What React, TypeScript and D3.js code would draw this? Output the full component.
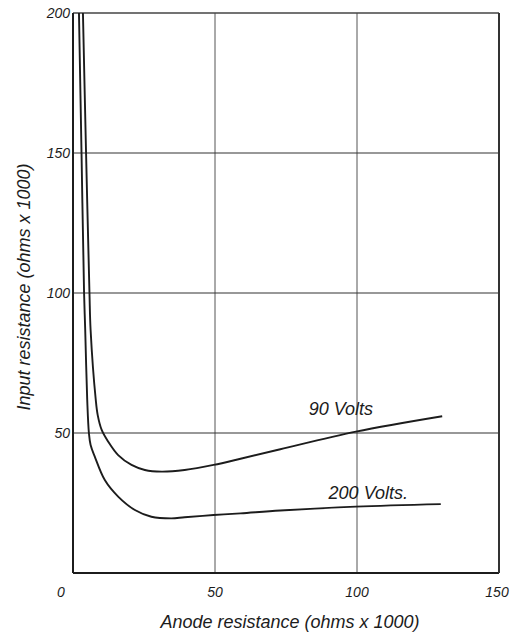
import React from "react";
import * as d3 from "d3";

// Anode resistance (ohms x 1000) vs input resistance (ohms x 1000)
const volts90X = [3.5, 4.6, 5.8, 6.2, 8.0, 8.7, 10.1, 12.4, 15.9, 20.6, 25.3, 31.2, 39.3, 49.5, 59.0, 73.0, 99.6, 130.0];
const volts90Y = [200, 150, 100, 86.8, 62.0, 56.4, 51.1, 46.9, 42.1, 38.6, 36.8, 36.2, 36.8, 38.6, 40.8, 44.2, 50.5, 56.0];

const volts200X = [2.1, 3.0, 3.9, 4.3, 5.0, 5.6, 6.2, 7.7, 11.2, 15.9, 21.8, 27.6, 34.6, 39.3, 49.5, 59.0, 73.0, 99.6, 129.5];
const volts200Y = [200, 150, 100, 86.8, 62.0, 50.0, 45.7, 41.5, 33.2, 27.3, 22.5, 20.1, 19.5, 19.9, 20.7, 21.3, 22.3, 23.7, 24.6];

const xTicks = [0, 50, 100, 150];
const yTicks = [50, 100, 150, 200];

const xTitle = "Anode resistance (ohms x 1000)";
const yTitle = "Input resistance (ohms x 1000)";

const seriesLabels = [
  { text: "90 Volts", x: 83, y: 56.5 },
  { text: "200 Volts.", x: 90, y: 26.5 },
];

const W = 510;
const H = 633;
const left = 73;
const right = 499;
const top = 13;
const bottom = 573;

export default function App() {
  const x = d3.scaleLinear().domain([0, 150]).range([left, right]);
  const y = d3.scaleLinear().domain([0, 200]).range([bottom, top]);

  const line = d3
    .line<[number, number]>()
    .x((d) => x(d[0]))
    .y((d) => y(d[1]))
    .curve(d3.curveCatmullRom.alpha(0.5));

  const p90 = line(volts90X.map((v, i) => [v, volts90Y[i]] as [number, number])) || "";
  const p200 = line(volts200X.map((v, i) => [v, volts200Y[i]] as [number, number])) || "";

  const font = "'Liberation Sans', Arial, sans-serif";
  const ink = "#1c1c1c";

  return (
    <svg
      width={W}
      height={H}
      style={{ position: "absolute", left: 0, top: 0, background: "#fff" }}
    >
      <defs>
        <clipPath id="plot">
          <rect x={left} y={top} width={right - left} height={bottom - top} />
        </clipPath>
      </defs>

      {/* grid */}
      {xTicks
        .filter((t) => t > 0 && t < 150)
        .map((t) => (
          <line key={"gx" + t} x1={x(t)} x2={x(t)} y1={top} y2={bottom} stroke="#555" strokeWidth={1} />
        ))}
      {yTicks
        .filter((t) => t < 200)
        .map((t) => (
          <line key={"gy" + t} x1={left} x2={right} y1={y(t)} y2={y(t)} stroke="#333" strokeWidth={1.2} />
        ))}

      {/* frame */}
      <line x1={left} x2={right} y1={top} y2={top} stroke="#444" strokeWidth={1.3} />
      <line x1={left} x2={right} y1={bottom} y2={bottom} stroke={ink} strokeWidth={2} />
      <line x1={left} x2={left} y1={top} y2={bottom} stroke={ink} strokeWidth={2} />
      <line x1={right} x2={right} y1={top} y2={bottom} stroke="#333" strokeWidth={2} />

      {/* curves */}
      <g clipPath="url(#plot)" fill="none" stroke={ink} strokeWidth={1.9}>
        <path d={p90} />
        <path d={p200} />
      </g>

      {/* series labels */}
      {seriesLabels.map((s) => (
        <text
          key={s.text}
          x={x(s.x)}
          y={y(s.y)}
          fontFamily={font}
          fontStyle="italic"
          fontSize={18}
          fill={ink}
        >
          {s.text}
        </text>
      ))}

      {/* x tick labels */}
      {xTicks.map((t) => (
        <text
          key={"xt" + t}
          x={x(t) + (t === 0 ? -12 : t === 150 ? -2 : 0)}
          y={597}
          textAnchor="middle"
          fontFamily={font}
          fontStyle="italic"
          fontSize={14}
          fill={ink}
        >
          {t}
        </text>
      ))}

      {/* y tick labels */}
      {yTicks.map((t) => (
        <text
          key={"yt" + t}
          x={left - 3}
          y={y(t) + 5}
          textAnchor="end"
          fontFamily={font}
          fontStyle="italic"
          fontSize={14}
          fill={ink}
        >
          {t}
        </text>
      ))}

      {/* axis titles */}
      <text
        x={290}
        y={628}
        textAnchor="middle"
        fontFamily={font}
        fontStyle="italic"
        fontSize={18}
        fill={ink}
      >
        {xTitle}
      </text>
      <text
        transform="translate(30,287) rotate(-90)"
        textAnchor="middle"
        fontFamily={font}
        fontStyle="italic"
        fontSize={18}
        fill={ink}
      >
        {yTitle}
      </text>
    </svg>
  );
}
